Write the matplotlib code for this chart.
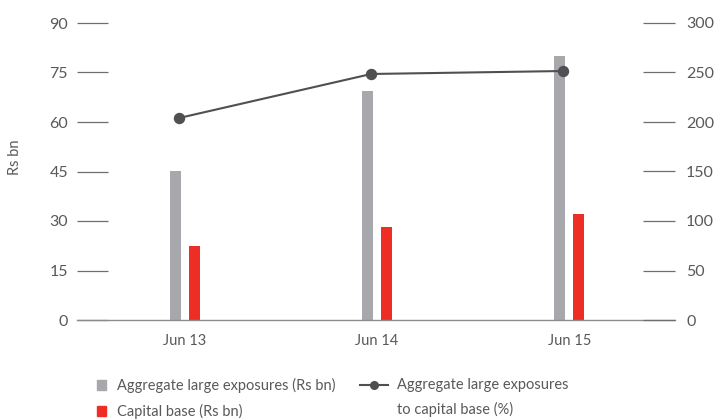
import matplotlib
matplotlib.use("Agg")
import matplotlib.pyplot as plt
import numpy as np
from matplotlib.patches import Rectangle
from matplotlib.lines import Line2D

plt.rcParams['font.family'] = ['Lato', 'DejaVu Sans']

# Data
periods = ["Jun 13", "Jun 14", "Jun 15"]
large_exposures = [45.2, 69.4, 80.0]      # Rs bn
capital_base = [22.4, 28.2, 32.1]         # Rs bn
exposure_ratio = [204, 248.5, 251.5]      # % of capital base
left_ticks = [0, 15, 30, 45, 60, 75, 90]
right_ticks = [0, 50, 100, 150, 200, 250, 300]

GRAY = "#A7A8AC"
RED = "#EE2E24"
LINE = "#505052"
TEXT = "#58595B"
TICK = "#6D6E71"

fig = plt.figure(figsize=(7.18, 4.19), dpi=100)
ax = fig.add_axes([77 / 718, 1 - 320 / 419, (675 - 77) / 718, (320 - 23) / 419])
ax2 = ax.twinx()

x = np.arange(len(periods))
w = 0.057
ax.bar(x - 0.05, large_exposures, width=w, color=GRAY, zorder=2)
ax.bar(x + 0.05, capital_base, width=w, color=RED, zorder=2)
ax2.plot(x - 0.03, exposure_ratio, color=LINE, lw=1.5, marker="o", ms=7.2, zorder=3)

ax.set_xlim(-0.56, 2.55)
ax.set_ylim(0, 90)
ax2.set_ylim(0, 300)
ax.set_yticks(left_ticks)
ax2.set_yticks(right_ticks)
ax.set_xticks(x)
ax.set_xticklabels(periods)

for s in ["top", "left", "right"]:
    ax.spines[s].set_visible(False)
    ax2.spines[s].set_visible(False)
ax2.spines["bottom"].set_visible(False)
ax.spines["bottom"].set_color("#8C8C8C")
ax.spines["bottom"].set_linewidth(1.0)

fs = 10.5
yfs = 11.5
ax.tick_params(axis="x", length=0, pad=10, labelsize=fs, labelcolor=TEXT)
ax.tick_params(axis="y", direction="in", length=22.5, width=0.9, color=TICK,
               pad=6.5, labelsize=yfs, labelcolor=TEXT)
ax2.tick_params(axis="y", direction="in", length=23, width=0.9, color=TICK,
                pad=8, labelsize=yfs, labelcolor=TEXT)
ax2.set_zorder(ax.get_zorder() + 1)

fig.text(15 / 718, 1 - 157 / 419, "Rs bn", rotation=90, ha="center", va="center",
         fontsize=fs, color=TEXT)

# Legend drawn in figure coordinates
def fx(px):
    return px / 718

def fy(py):
    return 1 - py / 419

sq_w, sq_h = 9 / 718, 10 / 419
fig.patches.append(Rectangle((fx(97), fy(390)), sq_w, sq_h, color=GRAY,
                             transform=fig.transFigure, figure=fig))
fig.patches.append(Rectangle((fx(97), fy(416)), sq_w, sq_h, color=RED,
                             transform=fig.transFigure, figure=fig))
fig.text(fx(117), fy(385), "Aggregate large exposures (Rs bn)", va="center",
         fontsize=fs, color=TEXT)
fig.text(fx(117), fy(411), "Capital base (Rs bn)", va="center",
         fontsize=fs, color=TEXT)
fig.lines.append(Line2D([fx(360), fx(388)], [fy(385), fy(385)], color=LINE, lw=1.5,
                        transform=fig.transFigure, figure=fig))
fig.lines.append(Line2D([fx(374)], [fy(385)], color=LINE, marker="o", ms=5.5,
                        transform=fig.transFigure, figure=fig))
fig.text(fx(397), fy(385), "Aggregate large exposures", va="center",
         fontsize=fs, color=TEXT)
fig.text(fx(397), fy(409), "to capital base (%)", va="center",
         fontsize=fs, color=TEXT)

fig.savefig("out.png", dpi=100)
